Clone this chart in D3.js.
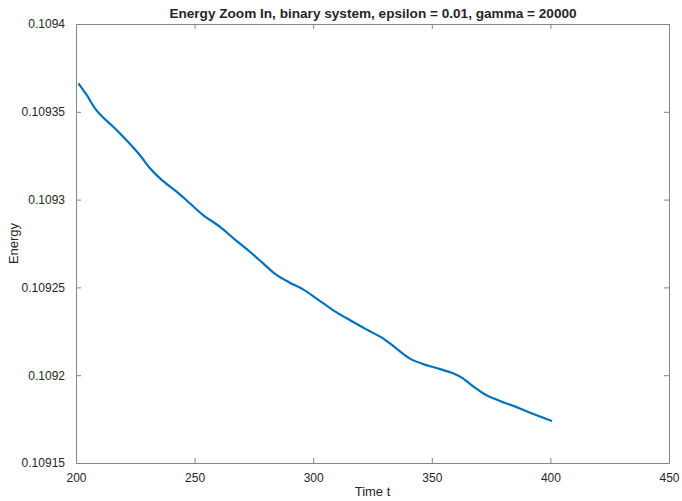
<!DOCTYPE html>
<html>
<head>
    <meta charset="utf-8">
    <title>Energy Zoom In</title>
    <style>
        body { margin: 0; background: #fff; }
        text { font-family: "Liberation Sans", Arial, sans-serif; fill: #262626; }
        .title { font-weight: bold; font-size: 13.6px; }
        .tick text { font-size: 12px; }
        .label { font-size: 13px; }
    </style>
</head>
<body>
    <svg width="682" height="501"></svg>
    <script src="https://d3js.org/d3.v7.min.js"></script>
    <script>
    // energy vs time
    var time = [201, 204.5, 208, 210.8, 215.7, 219.9, 226.9, 231.2, 236.1, 242.4,
                248, 253.6, 260.6, 266.9, 273.3, 278.9, 284.5, 290.1, 295.7, 301.3,
                308.3, 315.4, 322.4, 329.4, 335, 340.6, 346.2, 351.9, 358.9, 363.1,
                367.3, 372.9, 378.5, 386.9, 394, 400.7];
    var energy = [0.1093662, 0.1093596, 0.1093520, 0.1093476, 0.1093415, 0.1093358,
                  0.1093254, 0.1093178, 0.1093112, 0.1093045, 0.1092979, 0.1092912,
                  0.1092846, 0.1092774, 0.1092703, 0.1092637, 0.1092571, 0.1092527,
                  0.1092489, 0.1092438, 0.1092371, 0.1092314, 0.1092261, 0.1092210,
                  0.1092153, 0.1092096, 0.1092064, 0.1092041, 0.1092011, 0.1091982,
                  0.1091938, 0.1091887, 0.1091855, 0.1091812, 0.1091773, 0.1091739];
    var xTicks = [200, 250, 300, 350, 400, 450];
    var yTicks = [0.10915, 0.1092, 0.10925, 0.1093, 0.10935, 0.1094];

    var svg = d3.select("svg"),
        margin = {top: 24, right: 13, bottom: 38, left: 76},
        width = +svg.attr("width") - margin.left - margin.right,
        height = +svg.attr("height") - margin.top - margin.bottom,
        g = svg.append("g").attr("transform", "translate(" + margin.left + "," + margin.top + ")");

    var x = d3.scaleLinear().domain([200, 450]).range([0, width]);
    var y = d3.scaleLinear().domain([0.10915, 0.1094]).range([height, 0]);
    var axisColor = "#868686";

    function style(sel) {
      sel.select(".domain").attr("stroke", axisColor);
      sel.selectAll(".tick line").attr("stroke", axisColor);
    }

    g.append("g")
        .attr("transform", "translate(0," + height + ")")
        .call(d3.axisBottom(x).tickValues(xTicks).tickSizeInner(-5).tickSizeOuter(0).tickPadding(10))
        .call(style);
    g.append("g")
        .call(d3.axisTop(x).tickValues(xTicks).tickSizeInner(-5).tickSizeOuter(0).tickFormat(""))
        .call(style);
    g.append("g")
        .call(d3.axisLeft(y).tickValues(yTicks).tickSizeInner(-5).tickSizeOuter(0).tickPadding(11).tickFormat(d3.format("")))
        .call(style);
    g.append("g")
        .attr("transform", "translate(" + width + ",0)")
        .call(d3.axisRight(y).tickValues(yTicks).tickSizeInner(-5).tickSizeOuter(0).tickFormat(""))
        .call(style);

    svg.selectAll(".tick text").attr("fill", "#262626");

    var line = d3.line()
        .x(function(d, i) { return x(time[i]); })
        .y(function(d) { return y(d); })
        .curve(d3.curveCatmullRom);

    g.append("path")
        .datum(energy)
        .attr("fill", "none")
        .attr("stroke", "#0072BD")
        .attr("stroke-width", 2.2)
        .attr("d", line);

    svg.append("text")
        .attr("class", "title")
        .attr("x", 373)
        .attr("y", 18)
        .attr("text-anchor", "middle")
        .text("Energy Zoom In, binary system, epsilon = 0.01, gamma = 20000");

    svg.append("text")
        .attr("class", "label")
        .attr("x", margin.left + width / 2)
        .attr("y", 496)
        .attr("text-anchor", "middle")
        .text("Time t");

    svg.append("text")
        .attr("class", "label")
        .attr("transform", "translate(18," + (margin.top + height / 2) + ") rotate(-90)")
        .attr("text-anchor", "middle")
        .text("Energy");
    </script>
</body>
</html>
